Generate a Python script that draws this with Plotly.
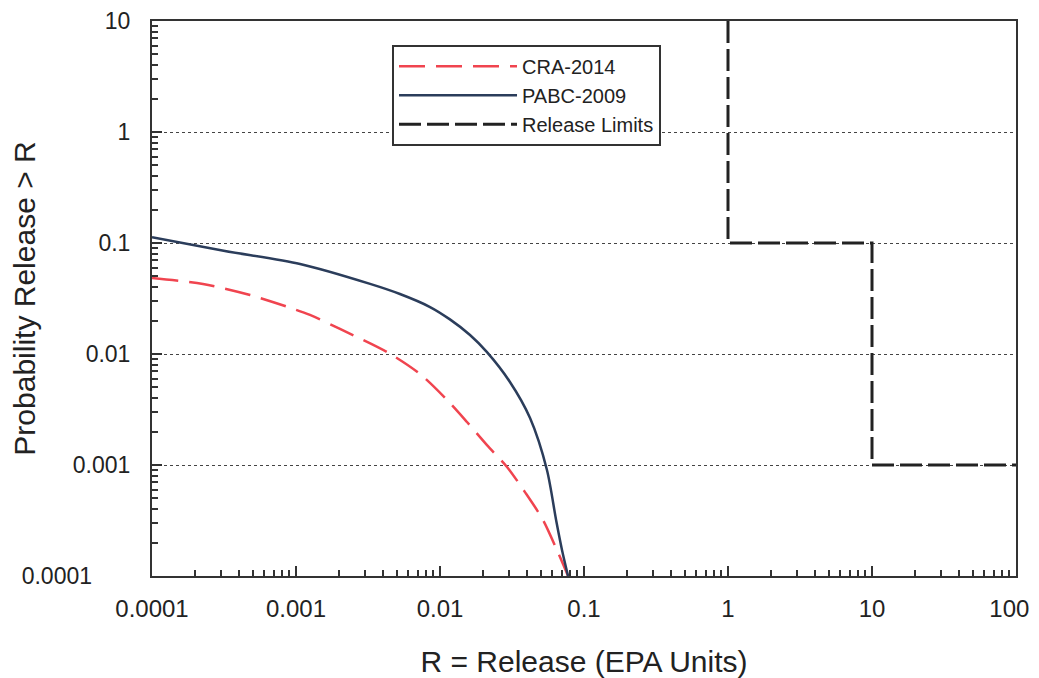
import plotly.graph_objects as go

# CCDF curves (x = release in EPA units, y = probability)
cra_x = [0.0001, 0.000226, 0.00048, 0.00125, 0.00202, 0.00429, 0.00726, 0.0112,
         0.0154, 0.0212, 0.0292, 0.0389, 0.0519, 0.0649, 0.0775]
cra_y = [0.0484, 0.0427, 0.034, 0.0225, 0.0168, 0.0104, 0.0066, 0.00385,
         0.00244, 0.00151, 0.00096, 0.00057, 0.00032, 0.000171, 0.0001]

pabc_x = [0.0001, 0.000321, 0.001067, 0.00327, 0.00527, 0.00853, 0.01172, 0.01616,
          0.0212, 0.0306, 0.0422, 0.0553, 0.064, 0.0704, 0.0775]
pabc_y = [0.1125, 0.0847, 0.0647, 0.0428, 0.0347, 0.0265, 0.0205, 0.01483,
          0.0104, 0.0056, 0.00265, 0.000902, 0.00032, 0.000171, 0.0001]

limit_x = [1, 1, 10, 10, 100]
limit_y = [10, 0.1, 0.1, 0.001, 0.001]

x_ticks = [0.0001, 0.001, 0.01, 0.1, 1, 10, 100]
# last label nudged left so it stays inside the window, as in the original
x_labels = ["0.0001", "0.001", "0.01", "0.1", "1", "10", "100" + "\u00a0" * 2]
y_ticks = [0.0001, 0.001, 0.01, 0.1, 1, 10]
# bottom label sits further left in the original
y_labels = ["0.0001" + "\u00a0" * 6, "0.001", "0.01", "0.1", "1", "10"]

fig = go.Figure()
fig.add_trace(go.Scatter(x=cra_x, y=cra_y, mode="lines", name="CRA-2014",
                         line=dict(color="#f0444f", width=2.5, dash="26px,11px",
                                   shape="spline", smoothing=0.8)))
fig.add_trace(go.Scatter(x=pabc_x, y=pabc_y, mode="lines", name="PABC-2009",
                         line=dict(color="#2b3d5b", width=2.5, shape="spline", smoothing=0.8)))
fig.add_trace(go.Scatter(x=limit_x, y=limit_y, mode="lines", name="Release Limits",
                         line=dict(color="#222222", width=3, dash="22px,6px")))

axis_common = dict(
    type="log", showline=True, linecolor="#333333", linewidth=2, mirror=True,
    ticks="inside", ticklen=10, tickcolor="#333333", tickwidth=1.5,
    minor=dict(ticks="inside", ticklen=6, tickcolor="#333333", dtick="D1", showgrid=False),
    zeroline=False, automargin=False, ticklabeloverflow="allow",
)

fig.update_xaxes(axis_common, range=[-4, 2], tickvals=x_ticks, ticktext=x_labels,
                 showgrid=False, ticklabelstandoff=10,
                 tickfont=dict(size=24, color="#222222"),
                 title=dict(text="R = Release (EPA Units)", font=dict(size=30, color="#222222"),
                            standoff=30))
fig.update_yaxes(axis_common, range=[-4, 1], tickvals=y_ticks, ticktext=y_labels,
                 showgrid=True, gridcolor="#444444", griddash="dot", gridwidth=1.3,
                 ticklabelstandoff=15, tickfont=dict(size=23, color="#222222"),
                 title=dict(text="Probability Release > R", font=dict(size=30, color="#222222"),
                            standoff=14))

# page body has an 8px margin, so the figure is a bit smaller than the window
fig.update_layout(
    width=1031, height=670,
    margin=dict(l=144, r=23, t=13, b=102),
    plot_bgcolor="white", paper_bgcolor="white",
    font=dict(family="Liberation Sans, Arial, sans-serif"),
    legend=dict(x=0.2778, y=0.957, xanchor="left", yanchor="top",
                bordercolor="#333333", borderwidth=2, bgcolor="white",
                font=dict(size=20, color="#222222"), itemwidth=118,
                tracegroupgap=0),
    showlegend=True,
)

fig.write_html("out.html")
